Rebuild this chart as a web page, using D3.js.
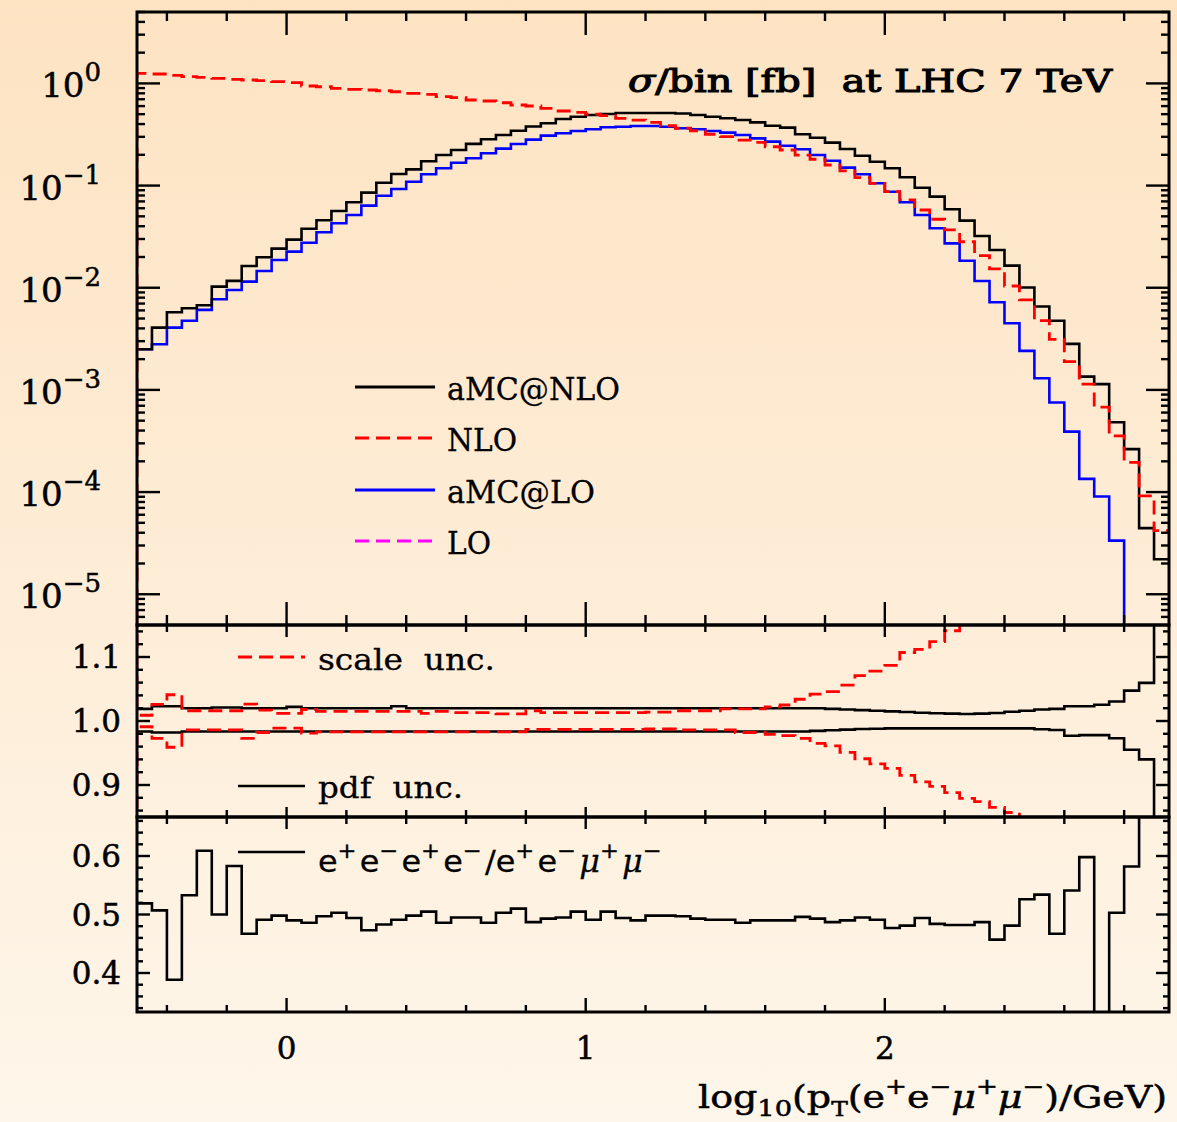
<!DOCTYPE html>
<html><head><meta charset="utf-8">
<script src="https://cdn.jsdelivr.net/npm/d3@7/dist/d3.min.js"></script>
<style>body{margin:0;} svg{display:block} text{white-space:pre}</style>
</head><body>
<svg id="c" width="1177" height="1122"></svg>
<script>
// ---------------- DATA ----------------
const binWidth = 0.05;
const binLow = d3.range(69).map(i => -0.5 + binWidth * i);   // log10(pT) bin lower edges

const aMCNLO = [0.00250,0.00407,0.00576,0.00630,0.00675,0.01025,0.01167,0.01633,0.01987,0.02415,
  0.02958,0.0378,0.0457,0.0564,0.0687,0.0853,0.1067,0.130,0.144,0.173,
  0.199,0.223,0.256,0.284,0.313,0.344,0.379,0.407,0.449,0.472,
  0.491,0.502,0.513,0.513,0.513,0.513,0.507,0.491,0.472,0.456,
  0.438,0.416,0.385,0.369,0.318,0.294,0.263,0.228,0.196,0.171,
  0.148,0.1205,0.0953,0.0779,0.0586,0.0454,0.0321,0.0234,0.01645,0.01007,
  0.00656,0.00476,0.00282,0.00135,0.00114,0.000483,0.000263,0.0000444,0.0000220];
const NLO = [1.255,1.236,1.20,1.163,1.147,1.122,1.097,1.080,1.063,1.039,
  1.016,0.943,0.928,0.895,0.876,0.862,0.848,0.829,0.800,0.782,
  0.741,0.725,0.688,0.673,0.647,0.615,0.601,0.571,0.537,0.521,
  0.499,0.483,0.455,0.438,0.416,0.385,0.364,0.344,0.318,0.301,
  0.279,0.265,0.240,0.223,0.199,0.181,0.159,0.139,0.1195,0.1053,
  0.0871,0.0723,0.0577,0.0468,0.0368,0.0282,0.0206,0.0153,0.0104,0.0076,
  0.00476,0.00313,0.00189,0.00114,0.000677,0.000355,0.000195,0.0000918,0.000042];
const aMCLO = [0.0025,0.0028,0.00407,0.00476,0.00607,0.00771,0.0095,0.01148,0.0146,0.0187,
  0.02255,0.0276,0.0349,0.0428,0.0516,0.0636,0.0796,0.0926,0.109,0.129,
  0.148,0.1675,0.185,0.207,0.230,0.255,0.282,0.308,0.325,0.342,
  0.356,0.372,0.377,0.383,0.383,0.377,0.364,0.356,0.342,0.330,
  0.313,0.290,0.269,0.2456,0.2266,0.199,0.175,0.150,0.129,0.1054,
  0.0871,0.0687,0.0516,0.0382,0.0272,0.0184,0.01166,0.00721,0.0045,0.00241,
  0.0013,0.000752,0.000391,0.0001346,0.0000904,0.0000335,0,0,0];
const LO = [];   // not visible in the plot, legend only

// relative uncertainties in percent
const scaleUpPct = [0.9,2.6,4.1,1.6,1.6,1.6,1.6,2.65,1.7,1.2,
  1.2,1.8,1.5,1.5,1.5,1.5,1.5,1.5,1.5,1.2,
  1.5,1.3,1.3,1.3,1.1,1.1,1.6,1.3,1.3,1.3,
  1.3,1.3,1.3,1.3,1.4,1.4,1.6,1.6,1.6,1.9,
  1.9,1.9,2.2,2.5,3.4,4.2,4.6,5.6,7.1,7.8,
  8.7,10.7,11.2,12.4,14.1,16.0,18.0,20.5,23,26,
  29,32,36,40,45,50,56,62,70];
const scaleDnPct = [-0.9,-2.7,-4.1,-1.4,-1.4,-1.4,-1.4,-2.7,-1.8,-1.1,
  -1.1,-1.9,-1.7,-1.7,-1.7,-1.7,-1.7,-1.7,-1.7,-1.7,
  -1.7,-1.7,-1.7,-1.7,-1.7,-1.7,-1.3,-1.3,-1.3,-1.3,
  -1.3,-1.3,-1.3,-1.3,-1.25,-1.25,-1.4,-1.4,-1.4,-1.4,
  -1.8,-1.8,-2.1,-2.3,-2.7,-3.5,-3.9,-4.9,-5.9,-6.7,
  -7.4,-8.5,-9.5,-10.2,-11.2,-12.1,-12.6,-13.5,-14.3,-15.5,
  -16.5,-17.5,-18.5,-19.5,-20.5,-21.5,-22.5,-23.5,-24.5];
const pdfUpPct = [1.9,2.3,2.3,2.0,2.0,2.1,2.1,2.0,2.0,2.0,
  2.2,2.0,2.0,2.0,2.0,2.0,2.0,2.3,2.0,2.0,
  2.0,2.0,2.0,2.0,2.0,2.0,2.0,2.0,2.0,2.0,
  2.0,2.0,2.0,2.0,2.0,2.0,2.0,2.0,2.0,2.0,
  2.0,2.0,2.0,2.0,2.0,2.0,1.9,1.8,1.7,1.6,
  1.5,1.4,1.3,1.2,1.15,1.1,1.15,1.25,1.45,1.6,
  1.8,1.9,2.3,2.3,2.55,3.05,4.75,5.95,30];
const pdfDnPct = [-1.65,-1.8,-1.8,-1.65,-1.65,-1.65,-1.65,-1.65,-1.65,-1.65,
  -1.65,-1.65,-1.65,-1.65,-1.65,-1.65,-1.65,-1.65,-1.65,-1.65,
  -1.65,-1.65,-1.65,-1.65,-1.65,-1.65,-1.65,-1.65,-1.65,-1.65,
  -1.65,-1.65,-1.65,-1.65,-1.65,-1.65,-1.65,-1.65,-1.65,-1.65,
  -1.65,-1.65,-1.65,-1.65,-1.65,-1.55,-1.45,-1.35,-1.25,-1.2,
  -1.15,-1.15,-1.15,-1.15,-1.15,-1.15,-1.15,-1.15,-1.15,-1.15,
  -1.3,-1.4,-2.3,-2.2,-2.2,-2.7,-4.5,-6.0,-30];

// e+e-e+e- / e+e-mu+mu- ratio
const flavourRatio = [0.519,0.507,0.3885,0.533,0.609,0.500,0.583,0.467,0.491,0.498,
  0.490,0.486,0.497,0.503,0.494,0.473,0.483,0.491,0.498,0.505,
  0.486,0.495,0.495,0.486,0.503,0.510,0.487,0.493,0.495,0.505,
  0.491,0.505,0.494,0.490,0.498,0.498,0.497,0.493,0.491,0.491,
  0.486,0.490,0.490,0.490,0.496,0.493,0.487,0.490,0.495,0.491,
  0.477,0.481,0.494,0.484,0.482,0.482,0.487,0.457,0.481,0.526,
  0.534,0.467,0.541,0.598,0,0.503,0.582,0.80,0.80];

const xMajor = [0, 1, 2];
const xMinor = [-0.4,-0.2,0.2,0.4,0.6,0.8,1.2,1.4,1.6,1.8,2.2,2.4,2.6,2.8];
const topMajor = [1e-5,1e-4,1e-3,1e-2,1e-1,1];
const topLabelExp = ["\u22125","\u22124","\u22123","\u22122","\u22121","0"];
const midMajor = [0.9, 1.0, 1.1];
const midLabels = ["0.9","1.0","1.1"];
const botMajor = [0.4, 0.5, 0.6];
const botLabels = ["0.4","0.5","0.6"];

// ---------------- DRAW ----------------
const svg = d3.select("#c");
const W = 1177, H = 1122;
const defs = svg.append("defs");
const grad = defs.append("linearGradient").attr("id","bg").attr("x1",0).attr("y1",0).attr("x2",0).attr("y2",1);
grad.append("stop").attr("offset","0%").attr("stop-color","#fde3c2");
grad.append("stop").attr("offset","100%").attr("stop-color","#fef6ea");
svg.append("rect").attr("width",W).attr("height",H).attr("fill","url(#bg)");

const L = 137, R = 1169;
const x = d3.scaleLinear().domain([-0.5, 2.95]).range([L, R]);
const P = {
  top: {y0: 12, y1: 625},
  mid: {y0: 625, y1: 817},
  bot: {y0: 817, y1: 1012}
};
const yTop = d3.scaleLog().domain([5e-6, 5]).range([P.top.y1, P.top.y0]);
const yMid = d3.scaleLinear().domain([0.85, 1.15]).range([P.mid.y1, P.mid.y0]);
const yBot = d3.scaleLinear().domain([1/3, 2/3]).range([P.bot.y1, P.bot.y0]);

Object.entries(P).forEach(([k,p]) => {
  defs.append("clipPath").attr("id","clip-"+k).append("rect")
    .attr("x",L).attr("y",p.y0).attr("width",R-L).attr("height",p.y1-p.y0);
});

const FONT = "'DejaVu Serif', serif";

function stepPoints(vals, startVal) {
  const pts = [];
  if (startVal !== undefined) pts.push([binLow[0], startVal]);
  vals.forEach((v,i) => pts.push([binLow[i], v]));
  pts.push([binLow[vals.length-1] + binWidth, vals[vals.length-1]]);
  return pts;
}
function drawStep(panel, yScale, pts, color, dashed, width) {
  const line = d3.line().curve(d3.curveStepAfter)
    .x(d => x(d[0]))
    .y(d => {
      if (yScale === yTop) return d[1] > 0 ? yTop(d[1]) : P.top.y1 + 20;
      return yScale(d[1]);
    });
  svg.append("path").attr("clip-path","url(#clip-"+panel+")")
    .attr("d", line(pts)).attr("fill","none")
    .attr("stroke", color).attr("stroke-width", width || 2.6)
    .attr("stroke-dasharray", dashed ? "14 7" : null)
    .attr("stroke-linejoin","miter");
}

// top panel
drawStep("top", yTop, stepPoints(aMCLO), "#0000ff", false);
if (LO.length) drawStep("top", yTop, stepPoints(LO), "#ff00ff", true);
drawStep("top", yTop, stepPoints(aMCNLO), "#000000", false);
drawStep("top", yTop, stepPoints(NLO, 0), "#ff0000", true, 2.8);

// middle panel
const pct = a => a.map(v => 1 + v/100);
drawStep("mid", yMid, stepPoints(pct(pdfUpPct)), "#000000", false);
drawStep("mid", yMid, stepPoints(pct(pdfDnPct)), "#000000", false);
drawStep("mid", yMid, stepPoints(pct(scaleUpPct), 1.3), "#ff0000", true, 2.8);
drawStep("mid", yMid, stepPoints(pct(scaleDnPct), 0.7), "#ff0000", true, 2.8);

// bottom panel
drawStep("bot", yBot, stepPoints(flavourRatio), "#000000", false);

// ticks
const tk = svg.append("g").attr("stroke","#000").attr("stroke-width",2.4);
function vt(xv, yA, len) { tk.append("line").attr("x1",x(xv)).attr("x2",x(xv)).attr("y1",yA).attr("y2",yA+len); }
function ht(yv, xA, len) { tk.append("line").attr("y1",yv).attr("y2",yv).attr("x1",xA).attr("x2",xA+len); }
const xTickSpec = {
  top: {tMaj:23, tMin:9, bMaj:23, bMin:10},
  mid: {tMaj:12, tMin:7, bMaj:10, bMin:7},
  bot: {tMaj:12, tMin:7, bMaj:14, bMin:7}
};
Object.entries(P).forEach(([k,p]) => {
  const s = xTickSpec[k];
  xMajor.forEach(v => { vt(v, p.y0, s.tMaj); vt(v, p.y1, -s.bMaj); });
  xMinor.forEach(v => { vt(v, p.y0, s.tMin); vt(v, p.y1, -s.bMin); });
});
for (let e = -6; e <= 0; e++) {
  for (let m = 1; m <= 9; m++) {
    const v = m * Math.pow(10, e);
    if (v < 5e-6 || v > 5) continue;
    const len = m === 1 ? 23 : 8;
    ht(yTop(v), L, len); ht(yTop(v), R, -len);
  }
}
d3.range(0.86, 1.145, 0.02).forEach(v => {
  const maj = midMajor.some(m => Math.abs(m - v) < 1e-6);
  const len = maj ? 13 : 6;
  ht(yMid(v), L, len); ht(yMid(v), R, -len);
});
d3.range(0.34, 0.665, 0.02).forEach(v => {
  const maj = botMajor.some(m => Math.abs(m - v) < 1e-6);
  const len = maj ? 13 : 6;
  ht(yBot(v), L, len); ht(yBot(v), R, -len);
});

// frames
Object.values(P).forEach(p => {
  svg.append("rect").attr("x",L).attr("y",p.y0).attr("width",R-L).attr("height",p.y1-p.y0)
    .attr("fill","none").attr("stroke","#000").attr("stroke-width",3);
});

// labels
const T = svg.append("g").attr("font-family",FONT).attr("fill","#000")
  .attr("stroke","#000").attr("stroke-width",0.5);
topMajor.forEach((v,i) => {
  const t = T.append("text").attr("x",101).attr("y",yTop(v)+14).attr("text-anchor","end")
    .attr("font-size",34);
  t.append("tspan").text("10");
  t.append("tspan").attr("dy",-16).attr("font-size",26).text(topLabelExp[i]);
});
midMajor.forEach((v,i) => {
  T.append("text").attr("x",121).attr("y",yMid(v)+11).attr("text-anchor","end")
    .attr("font-size",31).text(midLabels[i]);
});
botMajor.forEach((v,i) => {
  T.append("text").attr("x",121).attr("y",yBot(v)+11).attr("text-anchor","end")
    .attr("font-size",31).text(botLabels[i]);
});
xMajor.forEach(v => {
  T.append("text").attr("x",x(v)).attr("y",1059).attr("text-anchor","middle")
    .attr("font-size",31).text(String(v));
});

// title
const ttl = T.append("text").attr("x",628).attr("y",92).attr("font-size",32)
  .attr("stroke-width",1.1)
  .attr("textLength",484).attr("lengthAdjust","spacingAndGlyphs");
ttl.append("tspan").attr("font-style","italic").text("\u03c3");
ttl.append("tspan").text("/bin [fb]  at LHC 7 TeV");

// top legend
const legTop = [
  {name:"aMC@NLO", color:"#000000", dash:false, y:387, w:173},
  {name:"NLO", color:"#ff0000", dash:true, y:438, w:70},
  {name:"aMC@LO", color:"#0000ff", dash:false, y:490, w:148},
  {name:"LO", color:"#ff00ff", dash:true, y:541, w:44}
];
legTop.forEach(d => {
  svg.append("line").attr("x1",355).attr("x2",435).attr("y1",d.y).attr("y2",d.y)
    .attr("stroke",d.color).attr("stroke-width",2.8).attr("stroke-dasharray",d.dash?"14 7":null);
  T.append("text").attr("x",447).attr("y",d.y+13).attr("font-size",32).attr("stroke-width",0.3)
    .attr("textLength",d.w).attr("lengthAdjust","spacingAndGlyphs").text(d.name);
});

// middle legend
svg.append("line").attr("x1",238).attr("x2",305).attr("y1",657).attr("y2",657)
  .attr("stroke","#ff0000").attr("stroke-width",2.8).attr("stroke-dasharray","14 7");
T.append("text").attr("x",318).attr("y",670).attr("font-size",29).attr("stroke-width",0.3)
  .attr("textLength",177).attr("lengthAdjust","spacingAndGlyphs").text("scale  unc.");
svg.append("line").attr("x1",238).attr("x2",305).attr("y1",786).attr("y2",786)
  .attr("stroke","#000").attr("stroke-width",2.6);
T.append("text").attr("x",318).attr("y",798).attr("font-size",29).attr("stroke-width",0.3)
  .attr("textLength",145).attr("lengthAdjust","spacingAndGlyphs").text("pdf  unc.");

// bottom legend
svg.append("line").attr("x1",238).attr("x2",305).attr("y1",852).attr("y2",852)
  .attr("stroke","#000").attr("stroke-width",2.6);
const fl = T.append("text").attr("x",318).attr("y",872).attr("font-size",31).attr("stroke-width",0.3)
  .attr("font-family","'DejaVu Sans', sans-serif")
  .attr("textLength",347).attr("lengthAdjust","spacingAndGlyphs");
function supPair(base, sup, italic) {
  const b = fl.append("tspan").text(base);
  if (italic) b.attr("font-style","italic").attr("font-family",FONT);
  fl.append("tspan").attr("dy",-14).attr("font-size",22).text(sup);
  fl.append("tspan").attr("dy",14).attr("font-size",31).text("\u200a");
}
supPair("e","+"); supPair("e","\u2212"); supPair("e","+"); supPair("e","\u2212");
fl.append("tspan").text("/");
supPair("e","+"); supPair("e","\u2212"); supPair("\u03bc","+",true); supPair("\u03bc","\u2212",true);

// x axis title
const xt = T.append("text").attr("x",698).attr("y",1108).attr("font-size",32)
  .attr("textLength",469).attr("lengthAdjust","spacingAndGlyphs");
xt.append("tspan").text("log");
xt.append("tspan").attr("dy",8).attr("font-size",23).text("10");
xt.append("tspan").attr("dy",-8).attr("font-size",32).text("(p");
xt.append("tspan").attr("dy",8).attr("font-size",21).text("T");
xt.append("tspan").attr("dy",-8).attr("font-size",32).text("(e");
xt.append("tspan").attr("dy",-14).attr("font-size",22).text("+");
xt.append("tspan").attr("dy",14).attr("font-size",32).text("e");
xt.append("tspan").attr("dy",-14).attr("font-size",22).text("\u2212");
xt.append("tspan").attr("dy",14).attr("font-size",32).attr("font-style","italic").text("\u03bc");
xt.append("tspan").attr("dy",-14).attr("font-size",22).text("+");
xt.append("tspan").attr("dy",14).attr("font-size",32).attr("font-style","italic").text("\u03bc");
xt.append("tspan").attr("dy",-14).attr("font-size",22).text("\u2212");
xt.append("tspan").attr("dy",14).attr("font-size",32).text(")/GeV)");
</script>
</body></html>
